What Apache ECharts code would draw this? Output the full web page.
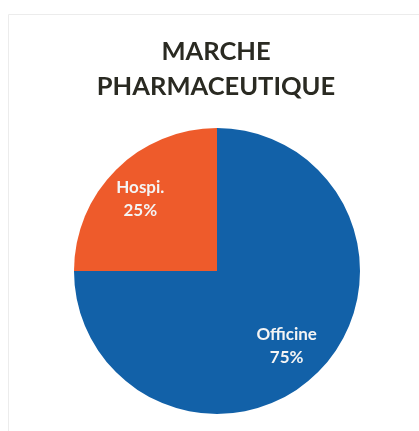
<!DOCTYPE html>
<html>
<head>
<meta charset="utf-8">
<script src="https://cdn.jsdelivr.net/npm/echarts@6/dist/echarts.min.js"></script>
<style>
  html, body { margin: 0; padding: 0; background: #fff; }
  #chart { width: 419px; height: 431px; }
</style>
</head>
<body>
<div id="chart"></div>
<script>
// market shares (%)
const categories = ['Hospi.', 'Officine']
const shares = [25, 75]
const colors = ['#ee5b2b', '#1261a8']
// label nudges so the text sits where the original puts it
const labelOffsets = [[-24, -19], [17, 22]]

const chart = echarts.init(document.getElementById('chart'))

chart.setOption({
  backgroundColor: '#fff',
  animation: false,
  title: {
    text: 'MARCHE\nPHARMACEUTIQUE',
    left: 211,
    top: 29,
    textAlign: 'center',
    textStyle: {
      fontFamily: 'Lato',
      fontWeight: 'bold',
      fontSize: 25.5,
      lineHeight: 35,
      color: '#2a2a22'
    }
  },
  graphic: [{
    type: 'rect',
    shape: { x: 8.5, y: 14.5, width: 430, height: 430 },
    style: { fill: 'none', stroke: '#ececec', lineWidth: 1 },
    silent: true
  }],
  series: [{
    type: 'pie',
    center: [217, 271],
    radius: 143,
    startAngle: 180,
    clockwise: true,
    silent: true,
    label: {
      show: true,
      position: 'inside',
      formatter: '{b}\n{d}%',
      fontFamily: 'Lato',
      fontWeight: 'bold',
      fontSize: 17,
      lineHeight: 23,
      color: '#f4f4f4'
    },
    labelLine: { show: false },
    itemStyle: { borderWidth: 0 },
    data: categories.map((name, i) => ({
      name: name,
      value: shares[i],
      itemStyle: { color: colors[i] },
      label: { offset: labelOffsets[i] }
    }))
  }]
})
</script>
</body>
</html>
